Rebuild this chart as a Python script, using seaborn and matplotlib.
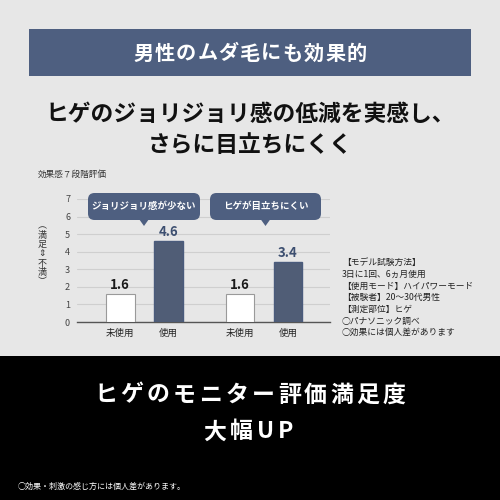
import matplotlib
matplotlib.use("Agg")
import matplotlib.pyplot as plt
import seaborn as sns
import pandas as pd
from matplotlib.patches import FancyBboxPatch, Rectangle, Polygon

# ---- data ----
groups = ["ジョリジョリ感が少ない", "ヒゲが目立ちにくい"]
conditions = ["未使用", "使用"]
values_unused = [1.6, 1.6]
values_used = [4.6, 3.4]
yticks = [0, 1, 2, 3, 4, 5, 6, 7]

banner_title = "男性のムダ毛にも効果的"
heading_lines = ["ヒゲのジョリジョリ感の低減を実感し、", "さらに目立ちにくく"]
scale_note = "効果感７段階評価"
ylabel_chars = ["︵", "満", "足", "⇕", "不", "満", "︶"]
notes = ["【モデル試験方法】", "3日に1回、6ヵ月使用", "【使用モード】ハイパワーモード",
         "【被験者】20～30代男性", "【測定部位】ヒゲ", "○パナソニック調べ", "○効果には個人差があります"]
bottom_lines = ["ヒゲのモニター評価満足度", "大幅UP"]
footnote = "○効果・刺激の感じ方には個人差があります。"

df = pd.DataFrame({
    "group": [g for g in groups for _ in conditions],
    "condition": conditions * len(groups),
    "value": [v for pair in zip(values_unused, values_used) for v in pair],
})

# ---- style ----
sns.set_style("white")
plt.rcParams["font.family"] = ["Noto Sans CJK JP", "DejaVu Sans"]

BG = "#e7e7e7"
NAVY = "#4e5f80"
BAR = "#4a5b7c"

fig = plt.figure(figsize=(5, 5), dpi=100, facecolor=BG)
renderer = fig.canvas.get_renderer()

def fx(px):
    return px / 500.0

def fy(py):
    return 1 - py / 500.0

def tracked_text(cx_px, cy_px, text, target_w_px, **kw):
    """Draw text centred at (cx, cy) spread to a target width by letter spacing."""
    widths = []
    for ch in text:
        t = fig.text(0, 0, ch, **kw)
        widths.append(t.get_window_extent(renderer).width)
        t.remove()
    natural = sum(widths)
    n = len(text)
    track = (target_w_px - natural) / (n - 1) if n > 1 else 0
    x = cx_px - target_w_px / 2
    for ch, w in zip(text, widths):
        fig.text(fx(x), fy(cy_px), ch, ha="left", va="center", **kw)
        x += w + track

# black bottom section
fig.patches.append(Rectangle((0, 0), 1, fy(356), transform=fig.transFigure,
                             facecolor="black", edgecolor="none", zorder=0))
# banner
fig.patches.append(Rectangle((fx(29), fy(76)), fx(471) - fx(29), fy(29) - fy(76),
                             transform=fig.transFigure, facecolor=NAVY,
                             edgecolor="none", zorder=1))
tracked_text(250, 53, banner_title, 233, color="white", fontsize=14.5, fontweight="bold")

fig.text(0.5, fy(114), heading_lines[0], color="#111111", fontsize=16.4, fontweight="bold",
         ha="center", va="center")
fig.text(0.5, fy(145), heading_lines[1], color="#111111", fontsize=16.4, fontweight="bold",
         ha="center", va="center")

fig.text(fx(38), fy(174), scale_note, color="#333333", fontsize=6.2, ha="left", va="center")

# ---- chart ----
ax = fig.add_axes([fx(77), fy(322), fx(330) - fx(77), fy(199) - fy(322)])
ax.set_facecolor("none")
sns.barplot(data=df, x="group", y="value", hue="condition", hue_order=conditions,
            order=groups, palette={"未使用": "white", "使用": BAR}, gap=0.4, width=0.8,
            errorbar=None, legend=False, ax=ax, zorder=3)
ax.set_xlim(-0.56, 1.55)
ax.set_ylim(0, 7)
ax.set_yticks(yticks)
ax.set_yticklabels([str(t) for t in yticks], fontsize=6.5, color="#444444")
ax.set_xticks([])
ax.set_xlabel("")
ax.set_ylabel("")
ax.yaxis.grid(True, color="#cfcfcf", linewidth=0.8, zorder=0)
ax.set_axisbelow(True)
for s in ["left", "top", "right"]:
    ax.spines[s].set_visible(False)
ax.spines["bottom"].set_color("#555555")
ax.spines["bottom"].set_linewidth(1.0)
ax.tick_params(axis="y", length=0, pad=5)

label_colors = {"未使用": "#1a1a1a", "使用": "#3d4f70"}
for cond, cont in zip(conditions, ax.containers):
    for patch in cont:
        if cond == "未使用":
            patch.set_edgecolor("#9a9a9a")
            patch.set_linewidth(0.8)
        else:
            patch.set_edgecolor(BAR)
        cx = patch.get_x() + patch.get_width() / 2
        h = patch.get_height()
        ax.annotate(f"{h:.1f}", (cx, h), xytext=(0, 1.5), textcoords="offset points",
                    ha="center", va="bottom", fontsize=9.5, fontweight="bold",
                    color=label_colors[cond])
        ax.annotate(cond, (cx, 0), xytext=(0, -4.5), textcoords="offset points",
                    ha="center", va="top", fontsize=6.8, color="#222222",
                    annotation_clip=False)

# y label (vertical stacked)
fig.text(fx(42), fy(254), "\n".join(ylabel_chars), color="#333333", fontsize=6.5,
         ha="center", va="center", linespacing=1.05)

# callout bubbles
bubbles = [(88, 200, 144), (210, 321, 265.5)]
for (x0, x1, tip), label in zip(bubbles, groups):
    fig.patches.append(FancyBboxPatch((fx(x0), fy(220)), fx(x1) - fx(x0), fy(193) - fy(220),
                                      boxstyle="round,pad=0,rounding_size=0.013",
                                      transform=fig.transFigure, facecolor=NAVY,
                                      edgecolor="none", zorder=5))
    fig.patches.append(Polygon([(fx(tip - 5), fy(219)), (fx(tip + 5), fy(219)),
                                (fx(tip), fy(226))], closed=True,
                               transform=fig.transFigure, facecolor=NAVY,
                               edgecolor="none", zorder=5))
    fig.text(fx((x0 + x1) / 2), fy(206.5), label, color="white", fontsize=6.8,
             fontweight="bold", ha="center", va="center", zorder=6)

# notes
note_y = [262, 274, 286, 297.7, 309.3, 321, 332.5]
for yy, line in zip(note_y, notes):
    fig.text(fx(342), fy(yy), line, color="#222222", fontsize=6.3, ha="left", va="center")

# bottom section text
tracked_text(250, 395, bottom_lines[0], 311, color="white", fontsize=16.5, fontweight="bold")
tracked_text(248, 432, bottom_lines[1], 90, color="white", fontsize=16.5, fontweight="bold")
fig.text(fx(18), fy(486), footnote, color="white", fontsize=5.8, ha="left", va="center")

fig.savefig("out.png", dpi=100, facecolor=BG)
